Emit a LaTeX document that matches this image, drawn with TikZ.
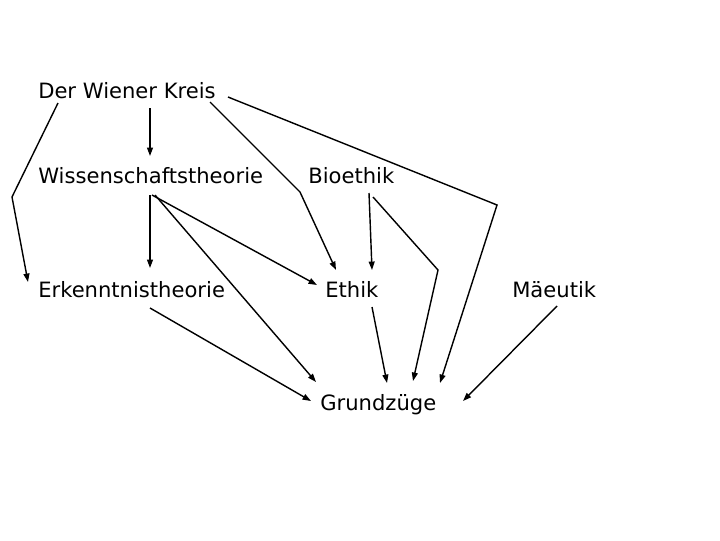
\documentclass[tikz,border=0pt]{standalone}
\usepackage{fontspec}
\setmainfont{DejaVu Sans}
\usetikzlibrary{arrows.meta, calc}

\begin{document}
\begin{tikzpicture}[x=0.025cm, y=-0.025cm,
  topic/.style={inner sep=0pt, anchor=base west, font=\fontsize{15}{18}\selectfont},
  link/.style={-{Triangle[length=6pt, width=4.2pt]}, line width=1pt},
]
  \useasboundingbox (0,0) rectangle (720,540);

  % Topics
  \node[topic] (kreis) at (38, 98.5) {Der Wiener Kreis};
  \node[topic] (wiss)  at (38, 183)  {Wissenschaftstheorie};
  \node[topic] (bio)   at (308, 183) {Bioethik};
  \node[topic] (erk)   at (38, 297)  {Erkenntnistheorie};
  \node[topic] (ethik) at (325, 297) {Ethik};
  \node[topic] (maeu)  at (512, 297) {Mäeutik};
  \node[topic] (grund) at (320, 410) {Grundzüge};

  % Bends
  \coordinate (bendA) at (12, 197);
  \coordinate (bendB) at (300, 192);
  \coordinate (bendC) at (497, 205);
  \coordinate (bendD) at (438, 270);

  % From Der Wiener Kreis
  \draw[link] ($(kreis.base west)+(20,4.5)$) -- (bendA) -- ($(erk.base west)+(-10,-15)$);
  \draw[link] ($(kreis.base west)+(112,9.5)$) -- ($(wiss.base west)+(112,-27)$);
  \draw[link] ($(kreis.base west)+(172,3.5)$) -- (bendB) -- ($(ethik.base west)+(11,-27)$);
  \draw[link] ($(kreis.base west)+(190,-1.5)$) -- (bendC) -- ($(grund.base west)+(120,-27)$);

  % From Wissenschaftstheorie
  \draw[link] ($(wiss.base west)+(112,12)$) -- ($(erk.base west)+(112,-29)$);
  \draw[link] ($(wiss.base west)+(114,12)$) -- ($(ethik.base west)+(-8,-12)$);
  \draw[link] ($(wiss.base west)+(117,12)$) -- ($(grund.base west)+(-4,-28)$);

  % Into Grundzüge
  \draw[link] ($(erk.base west)+(112,11)$) -- ($(grund.base west)+(-9,-9)$);
  \draw[link] ($(bio.base west)+(61,10)$) -- ($(ethik.base west)+(47,-27)$);
  \draw[link] ($(bio.base west)+(65,14)$) -- (bendD) -- ($(grund.base west)+(93,-29)$);
  \draw[link] ($(ethik.base west)+(47,10)$) -- ($(grund.base west)+(67,-27)$);
  \draw[link] ($(maeu.base west)+(45,9)$) -- ($(grund.base west)+(143,-9)$);
\end{tikzpicture}
\end{document}
